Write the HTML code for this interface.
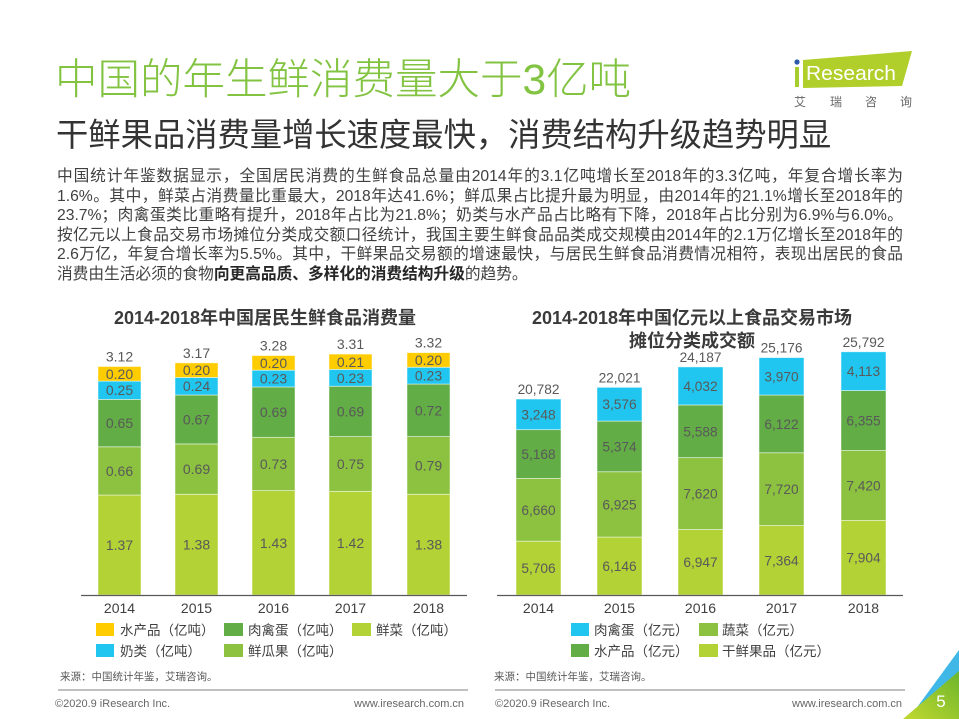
<!DOCTYPE html>
<html><head><meta charset="utf-8">
<style>
html,body{margin:0;padding:0;background:#fff;}
body{width:959px;height:719px;overflow:hidden;position:relative;font-family:"Liberation Sans","Noto Sans CJK SC",sans-serif;}
.t{position:absolute;white-space:nowrap;}
#title{left:55px;top:56px;font-size:42.5px;line-height:50px;color:#82c341;font-weight:300;}
#sub{left:56px;top:115px;font-size:32.3px;line-height:40px;color:#333;}
#body{position:absolute;left:57px;top:167px;width:846px;font-size:15.7px;color:#404040;}
#body div{height:19.5px;line-height:19.5px;white-space:nowrap;text-align:justify;text-align-last:justify;}
#body div.last{text-align:left;text-align-last:left;}
#body b{color:#262626;}
svg{position:absolute;left:0;top:0;}
</style></head>
<body>
<div class="t" id="title">中国的年生鲜消费量大于3亿吨</div>
<div class="t" id="sub">干鲜果品消费量增长速度最快，消费结构升级趋势明显</div>
<div id="body">
<div>中国统计年鉴数据显示，全国居民消费的生鲜食品总量由2014年的3.1亿吨增长至2018年的3.3亿吨，年复合增长率为</div>
<div>1.6%。其中，鲜菜占消费量比重最大，2018年达41.6%；鲜瓜果占比提升最为明显，由2014年的21.1%增长至2018年的</div>
<div>23.7%；肉禽蛋类比重略有提升，2018年占比为21.8%；奶类与水产品占比略有下降，2018年占比分别为6.9%与6.0%。</div>
<div>按亿元以上食品交易市场摊位分类成交额口径统计，我国主要生鲜食品品类成交规模由2014年的2.1万亿增长至2018年的</div>
<div>2.6万亿，年复合增长率为5.5%。其中，干鲜果品交易额的增速最快，与居民生鲜食品消费情况相符，表现出居民的食品</div>
<div class="last">消费由生活必须的食物<b>向更高品质、多样化的消费结构升级</b>的趋势。</div>
</div>

<svg width="959" height="719" viewBox="0 0 959 719" xmlns="http://www.w3.org/2000/svg" font-family="Liberation Sans, Noto Sans CJK SC, sans-serif">
<defs>
<linearGradient id="gg" x1="0" y1="1" x2="1" y2="0">
<stop offset="0" stop-color="#c2d92f"/>
<stop offset="1" stop-color="#6cb52c"/>
</linearGradient>
</defs>

<!-- logo -->
<rect x="795" y="67" width="4" height="20" fill="#a7cc2e"/>
<circle cx="797" cy="62" r="2.6" fill="#2b5aa8"/>
<polygon points="803,60 912,51 902,86 803,88" fill="#b0cf2a"/>
<text x="806" y="80" font-size="20" fill="#fff" textLength="90" lengthAdjust="spacingAndGlyphs">Research</text>
<g font-size="12" fill="#666" text-anchor="middle">
<text x="800" y="106">艾</text><text x="836" y="106">瑞</text><text x="871" y="106">咨</text><text x="906" y="106">询</text>
</g>

<!-- chart titles -->
<g font-size="18" font-weight="bold" fill="#3a3a3a" text-anchor="middle">
<text x="265" y="324">2014-2018年中国居民生鲜食品消费量</text>
<text x="692" y="324">2014-2018年中国亿元以上食品交易市场</text>
<text x="692" y="347">摊位分类成交额</text>
</g>

<!-- LEFT CHART -->
<g stroke="#ffffff" stroke-width="0.8" stroke-opacity="0.6">
<rect x="98" y="495" width="43" height="100" fill="#b3d236"/>
<rect x="98" y="446.8" width="43" height="48.2" fill="#8cc23f"/>
<rect x="98" y="399.4" width="43" height="47.4" fill="#62ad45"/>
<rect x="98" y="381.1" width="43" height="18.3" fill="#20c6f0"/>
<rect x="98" y="366.5" width="43" height="14.6" fill="#ffcc00"/>
<rect x="175" y="494.26" width="43" height="100.74" fill="#b3d236"/>
<rect x="175" y="443.89" width="43" height="50.37" fill="#8cc23f"/>
<rect x="175" y="394.98" width="43" height="48.91" fill="#62ad45"/>
<rect x="175" y="377.46" width="43" height="17.52" fill="#20c6f0"/>
<rect x="175" y="362.86" width="43" height="14.6" fill="#ffcc00"/>
<rect x="252" y="490.61" width="43" height="104.39" fill="#b3d236"/>
<rect x="252" y="437.32" width="43" height="53.29" fill="#8cc23f"/>
<rect x="252" y="386.95" width="43" height="50.37" fill="#62ad45"/>
<rect x="252" y="370.16" width="43" height="16.79" fill="#20c6f0"/>
<rect x="252" y="355.56" width="43" height="14.6" fill="#ffcc00"/>
<rect x="329" y="491.34" width="43" height="103.66" fill="#b3d236"/>
<rect x="329" y="436.59" width="43" height="54.75" fill="#8cc23f"/>
<rect x="329" y="386.22" width="43" height="50.37" fill="#62ad45"/>
<rect x="329" y="369.43" width="43" height="16.79" fill="#20c6f0"/>
<rect x="329" y="354.1" width="43" height="15.33" fill="#ffcc00"/>
<rect x="407" y="494.26" width="43" height="100.74" fill="#b3d236"/>
<rect x="407" y="436.59" width="43" height="57.67" fill="#8cc23f"/>
<rect x="407" y="384.03" width="43" height="52.56" fill="#62ad45"/>
<rect x="407" y="367.24" width="43" height="16.79" fill="#20c6f0"/>
<rect x="407" y="352.64" width="43" height="14.6" fill="#ffcc00"/>
</g>
<line x1="81" y1="595.5" x2="467" y2="595.5" stroke="#595959" stroke-width="1.2"/>
<g font-size="14" fill="#595959" text-anchor="middle">
<text x="119.5" y="550">1.37</text><text x="119.5" y="475.9">0.66</text><text x="119.5" y="428.1">0.65</text><text x="119.5" y="395.2">0.25</text><text x="119.5" y="378.8">0.20</text><text x="119.5" y="361.5">3.12</text>
<text x="196.5" y="549.6">1.38</text><text x="196.5" y="474.1">0.69</text><text x="196.5" y="424.4">0.67</text><text x="196.5" y="391.2">0.24</text><text x="196.5" y="375.2">0.20</text><text x="196.5" y="357.9">3.17</text>
<text x="273.5" y="547.8">1.43</text><text x="273.5" y="469">0.73</text><text x="273.5" y="417.1">0.69</text><text x="273.5" y="383.6">0.23</text><text x="273.5" y="367.9">0.20</text><text x="273.5" y="350.6">3.28</text>
<text x="350.5" y="548.2">1.42</text><text x="350.5" y="469">0.75</text><text x="350.5" y="416.4">0.69</text><text x="350.5" y="382.8">0.23</text><text x="350.5" y="366.8">0.21</text><text x="350.5" y="349.1">3.31</text>
<text x="428.5" y="549.6">1.38</text><text x="428.5" y="470.4">0.79</text><text x="428.5" y="415.3">0.72</text><text x="428.5" y="380.6">0.23</text><text x="428.5" y="364.9">0.20</text><text x="428.5" y="347.6">3.32</text>
</g>
<g font-size="14" fill="#404040" text-anchor="middle">
<text x="119.5" y="613">2014</text><text x="196.5" y="613">2015</text><text x="273.5" y="613">2016</text><text x="350.5" y="613">2017</text><text x="428.5" y="613">2018</text>
</g>
<rect x="96" y="623" width="18" height="13" fill="#ffcc00"/>
<rect x="224" y="623" width="19" height="13" fill="#62ad45"/>
<rect x="352" y="623" width="19" height="13" fill="#b3d236"/>
<rect x="96" y="644" width="18" height="13" fill="#20c6f0"/>
<rect x="224" y="644" width="19" height="13" fill="#8cc23f"/>
<g font-size="13.5" fill="#404040">
<text x="120" y="635">水产品（亿吨）</text>
<text x="248" y="635">肉禽蛋（亿吨）</text>
<text x="376" y="635">鲜菜（亿吨）</text>
<text x="120" y="656">奶类（亿吨）</text>
<text x="248" y="656">鲜瓜果（亿吨）</text>
</g>

<!-- RIGHT CHART -->
<g stroke="#ffffff" stroke-width="0.8" stroke-opacity="0.6">
<rect x="516" y="541.19" width="45" height="53.81" fill="#b3d236"/>
<rect x="516" y="478.39" width="45" height="62.8" fill="#8cc23f"/>
<rect x="516" y="429.66" width="45" height="48.73" fill="#62ad45"/>
<rect x="516" y="399.03" width="45" height="30.63" fill="#20c6f0"/>
<rect x="597" y="537.04" width="45" height="57.96" fill="#b3d236"/>
<rect x="597" y="471.74" width="45" height="65.3" fill="#8cc23f"/>
<rect x="597" y="421.06" width="45" height="50.68" fill="#62ad45"/>
<rect x="597" y="387.34" width="45" height="33.72" fill="#20c6f0"/>
<rect x="678" y="529.49" width="45" height="65.51" fill="#b3d236"/>
<rect x="678" y="457.63" width="45" height="71.86" fill="#8cc23f"/>
<rect x="678" y="404.94" width="45" height="52.69" fill="#62ad45"/>
<rect x="678" y="366.92" width="45" height="38.02" fill="#20c6f0"/>
<rect x="759" y="525.56" width="45" height="69.44" fill="#b3d236"/>
<rect x="759" y="452.76" width="45" height="72.8" fill="#8cc23f"/>
<rect x="759" y="395.03" width="45" height="57.73" fill="#62ad45"/>
<rect x="759" y="357.59" width="45" height="37.44" fill="#20c6f0"/>
<rect x="841" y="520.47" width="45" height="74.53" fill="#b3d236"/>
<rect x="841" y="450.5" width="45" height="69.97" fill="#8cc23f"/>
<rect x="841" y="390.57" width="45" height="59.93" fill="#62ad45"/>
<rect x="841" y="351.78" width="45" height="38.79" fill="#20c6f0"/>
</g>
<line x1="497" y1="595.5" x2="903" y2="595.5" stroke="#595959" stroke-width="1.2"/>
<g font-size="13.7" fill="#595959" text-anchor="middle">
<text x="538.5" y="573.1">5,706</text><text x="538.5" y="514.8">6,660</text><text x="538.5" y="459">5,168</text><text x="538.5" y="419.3">3,248</text><text x="538.5" y="394">20,782</text>
<text x="619.5" y="571">6,146</text><text x="619.5" y="509.4">6,925</text><text x="619.5" y="451.4">5,374</text><text x="619.5" y="409.2">3,576</text><text x="619.5" y="382.3">22,021</text>
<text x="700.5" y="567.2">6,947</text><text x="700.5" y="498.6">7,620</text><text x="700.5" y="436.3">5,588</text><text x="700.5" y="390.9">4,032</text><text x="700.5" y="361.9">24,187</text>
<text x="781.5" y="565.3">7,364</text><text x="781.5" y="494.2">7,720</text><text x="781.5" y="428.9">6,122</text><text x="781.5" y="381.3">3,970</text><text x="781.5" y="352.6">25,176</text>
<text x="863.5" y="562.7">7,904</text><text x="863.5" y="490.5">7,420</text><text x="863.5" y="425.5">6,355</text><text x="863.5" y="376.2">4,113</text><text x="863.5" y="346.8">25,792</text>
</g>
<g font-size="14" fill="#404040" text-anchor="middle">
<text x="538.5" y="613">2014</text><text x="619.5" y="613">2015</text><text x="700.5" y="613">2016</text><text x="781.5" y="613">2017</text><text x="863.5" y="613">2018</text>
</g>
<rect x="571" y="623" width="18" height="13" fill="#20c6f0"/>
<rect x="699" y="623" width="19" height="13" fill="#8cc23f"/>
<rect x="571" y="644" width="18" height="13" fill="#62ad45"/>
<rect x="699" y="644" width="19" height="13" fill="#b3d236"/>
<g font-size="13.5" fill="#404040">
<text x="594" y="635">肉禽蛋（亿元）</text>
<text x="722" y="635">蔬菜（亿元）</text>
<text x="594" y="656">水产品（亿元）</text>
<text x="722" y="656">干鲜果品（亿元）</text>
</g>

<g font-size="10.5" fill="#595959">
<text x="60" y="680">来源：中国统计年鉴，艾瑞咨询。</text>
<text x="494" y="680">来源：中国统计年鉴，艾瑞咨询。</text>
</g>

<line x1="58" y1="690" x2="468" y2="690" stroke="#c0c0c0" stroke-width="2"/>
<line x1="495" y1="690" x2="905" y2="690" stroke="#c0c0c0" stroke-width="2"/>
<g font-size="11" fill="#666">
<text x="55" y="707">©2020.9 iResearch Inc.</text>
<text x="354" y="707">www.iresearch.com.cn</text>
<text x="495" y="707">©2020.9 iResearch Inc.</text>
<text x="792" y="707">www.iresearch.com.cn</text>
</g>

<polygon points="918,706 959,650 959,672 926,712" fill="#3fb8e8"/>
<polygon points="903,719 959,719 959,671" fill="url(#gg)"/>
<text x="941" y="707" font-size="17" fill="#fff" text-anchor="middle">5</text>
</svg>
</body></html>
